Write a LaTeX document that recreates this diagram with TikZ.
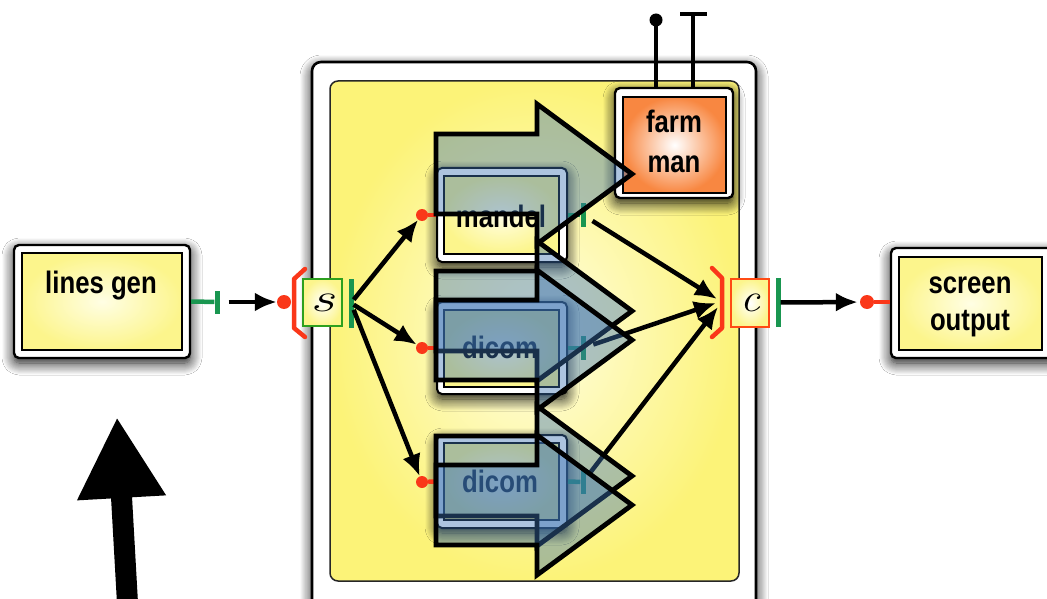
\documentclass[tikz,border=0pt]{standalone}
\usepackage{fontspec}
\newfontfamily\lblfont[FakeStretch=0.83]{Liberation Sans}
\usetikzlibrary{arrows.meta,shadows.blur}
\definecolor{portred}{RGB}{250,55,25}
\definecolor{portgreen}{RGB}{25,150,80}
\definecolor{ylw}{RGB}{252,245,140}
\definecolor{ylwc}{RGB}{255,254,228}
\definecolor{orng}{RGB}{248,135,65}
\definecolor{sgreen}{RGB}{45,160,30}
\definecolor{cred}{RGB}{255,75,20}
\definecolor{arrowblue}{RGB}{60,115,180}
\newcommand\scrlet[2]{\scalebox{#2}[1]{\fontsize{40}{40}\selectfont\itshape #1}}
\begin{document}
\begin{tikzpicture}[x=1pt,y=-1pt,
  shd/.style={blur shadow={shadow xshift=0pt,shadow yshift=-5pt,shadow blur radius=12pt,shadow blur steps=12,shadow opacity=95}},
  outerbox/.style={draw=black,line width=2.4pt,fill=white,rounded corners=5pt,inner sep=0pt},
  innerbox/.style={draw=black,line width=2pt,shade,inner color=ylwc,outer color=ylw,inner sep=0pt},
  lbl/.style={font=\lblfont\bfseries\fontsize{31}{37}\selectfont,anchor=base,inner sep=0pt},
  dot/.style={circle,fill=portred,inner sep=0pt,minimum size=13pt},
  gbar/.style={rectangle,fill=portgreen,inner sep=0pt,minimum width=5pt},
  gline/.style={draw=portgreen,line width=4.5pt},
  rline/.style={draw=portred,line width=4.5pt},
  rbr/.style={draw=portred,line width=4.5pt,line join=round,line cap=round},
  conn/.style={draw=black,line width=4.5pt,-{Latex[length=22pt,width=19pt]}},
  blk/.style={draw=black,line width=4.5pt},
  barrow/.style={draw=black,line width=4.8pt,fill=arrowblue,fill opacity=0.42,line join=miter}
]
\useasboundingbox (0,0) rectangle (1047,599);
\fill[white] (0,0) rectangle (1047,599);

% main container
\node[outerbox,line width=2.6pt,rounded corners=9pt,minimum width=444pt,minimum height=570pt,shd] (cont) at (534,347) {};
\node[innerbox,draw=black!85,line width=1.5pt,rounded corners=8pt,inner color=ylwc,outer color={rgb,255:red,252;green,243;blue,120},minimum width=409pt,minimum height=500pt] (conti) at (534.5,331) {};

% lines gen
\node[outerbox,minimum width=176pt,minimum height=113pt,shd] (lg) at (102,301.5) {};
\node[innerbox,minimum width=160pt,minimum height=97pt] (lgi) at (lg.center) {};
\node[lbl] (lgt) at (101,293) {lines gen};

% screen output
\node[outerbox,minimum width=162pt,minimum height=110pt,shd] (so) at (972,303) {};
\node[innerbox,minimum width=143pt,minimum height=93pt] (soi) at (970.5,303.5) {};
\node[lbl] (sot1) at (970,293) {screen};
\node[lbl] (sot2) at (970,330) {output};

% farm man
\node[outerbox,minimum width=118pt,minimum height=110pt,shd] (fm) at (674,143) {};
\node[innerbox,inner color=white,outer color=orng,minimum width=103pt,minimum height=96pt] (fmi) at (674.5,145) {};
\node[lbl] (fmt1) at (674,133) {farm};
\node[lbl] (fmt2) at (674,172) {man};
\node[circle,fill=black,inner sep=0pt,minimum size=13pt] (fdot) at (656,20) {};
\node[rectangle,fill=black,inner sep=0pt,minimum width=27pt,minimum height=4.5pt] (fbar) at (693,14) {};
\draw[blk] (fdot.center) -- (fdot |- fm.north);
\draw[blk] (fbar.center) -- (fbar |- fm.north);

% workers
\node[outerbox,line width=2pt,shd] (m) at (502,215) [minimum width=130pt,minimum height=94pt] {};
\node[innerbox,line width=2pt,minimum width=115pt,minimum height=78pt] (mi) at (501.5,215) {};
\node[lbl] (mt) at (501,227) {mandel};

\node[outerbox,line width=2pt,shd] (d1) at (502,348) [minimum width=130pt,minimum height=92pt] {};
\node[innerbox,line width=2pt,minimum width=115pt,minimum height=77pt] (d1i) at (501.5,348.5) {};
\node[lbl] (d1t) at (500,358) {dicom};

\node[outerbox,line width=2pt,shd] (d2) at (502,481.5) [minimum width=130pt,minimum height=93pt] {};
\node[innerbox,line width=2pt,minimum width=115pt,minimum height=77pt] (d2i) at (501.5,481.5) {};
\node[lbl] (d2t) at (500,492) {dicom};

% worker ports
\node[dot,minimum size=12pt] (mdot) at (422,215) {};
\node[dot,minimum size=12pt] (d1dot) at (422,348) {};
\node[dot,minimum size=12pt] (d2dot) at (422,482) {};
\draw[rline] (mdot) -- (m.west);
\draw[rline] (d1dot) -- (d1.west);
\draw[rline] (d2dot) -- (d2.west);
\node[gbar,minimum height=24pt] (mbar) at (583,215) {};
\node[gbar,minimum height=24pt] (d1bar) at (583,348) {};
\node[gbar,minimum height=24pt] (d2bar) at (583,482) {};
\draw[gline] (m.east) -- (mbar);
\draw[gline] (d1.east) -- (d1bar);
\draw[gline] (d2.east) -- (d2bar);

% S emitter
\node[dot,minimum size=14pt] (sdot) at (284,302) {};
\draw[rbr] (305,269) -- (294,279) -- (294,328) -- (305,337);
\node[draw=sgreen,line width=2.5pt,shade,inner color=white,outer color=ylw,inner sep=0pt,minimum width=39pt,minimum height=47pt] (s) at (322.5,302.5) {\scrlet{s}{1.5}};
\node[gbar,minimum height=49pt] (sbar) at (351,303) {};

% lines gen port
\node[gbar,minimum height=23pt] (lgbar) at (217,302) {};
\draw[gline] (lg.east) -- (lgbar);
\draw[conn,shorten <=9pt] (lgbar) -- (sdot);

% S -> workers
\draw[conn] (sbar) -- (mdot);
\draw[conn] (sbar) -- (d1dot);
\draw[conn] (sbar) -- (d2dot);

% C collector
\draw[rbr] (712,268) -- (722,278) -- (722,328) -- (712,337);
\node[draw=cred,line width=2.5pt,shade,inner color=white,outer color=ylw,inner sep=0pt,minimum width=38pt,minimum height=48pt] (c) at (750,303) {\scrlet{c}{1.1}};
\node[gbar,minimum height=49pt] (cbar) at (778,302.5) {};
\coordinate (cin1) at (717,299);
\coordinate (cin2) at (716,303);
\coordinate (cin3) at (718,307);
\draw[conn,shorten <=8pt] (mbar) -- (cin1);
\draw[conn,shorten <=8pt] (d1bar) -- (cin2);
\draw[conn,shorten <=8pt] (d2bar) -- (cin3);

% C -> screen
\node[dot,minimum size=14pt] (sodot) at (867,302) {};
\draw[conn,shorten >=2pt] (cbar) -- (sodot);
\draw[rline] (sodot) -- (so.west |- sodot);

% translucent block arrows
\foreach \c in {174,311,340,476,505}{
  \draw[barrow] (436,{\c-40}) -- (537,{\c-40}) -- (537,{\c-70}) -- (632,\c)
     -- (537,{\c+70}) -- (537,{\c+40}) -- (436,{\c+40}) -- cycle;
}

% big black arrow
\coordinate (bigtail) at (128,612);
\coordinate (bighead) at (117,417);
\draw[line width=21pt,-{Triangle[length=81pt,width=83pt]}] (bigtail) -- (bighead);
\end{tikzpicture}
\end{document}
